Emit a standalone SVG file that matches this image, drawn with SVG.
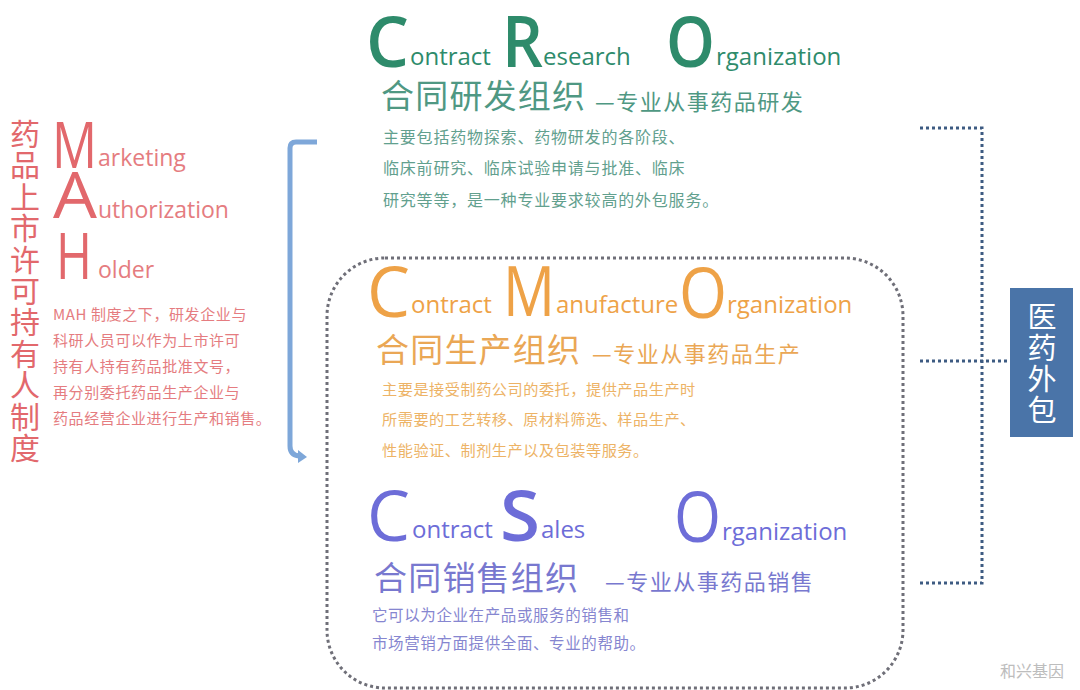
<svg xmlns="http://www.w3.org/2000/svg" width="1080" height="690" viewBox="0 0 1080 690">
<style>
.lat{font-family:"Open Sans","Liberation Sans",sans-serif}
.cjk{font-family:"Noto Sans CJK SC","Noto Sans",sans-serif}
.big{font-size:70px}
.word{font-size:24px}
.h2{font-size:33px;letter-spacing:1.2px}
.h3{font-size:22px;letter-spacing:1.5px}
.p{font-size:15.5px;letter-spacing:0.6px}
.red{fill:#e2686c}
.redl{fill:#e57c80}
.grn{fill:#2e8b6b}
.grnm{fill:#4f9883}
.grnl{fill:#62a08e}
.org{fill:#eea247}
.orgm{fill:#eaa755}
.orgl{fill:#edb366}
.pur{fill:#6d6dd8}
.purm{fill:#7878cf}
.purl{fill:#8686d0}
.dot{fill:none;stroke:#3d5b82;stroke-width:3;stroke-dasharray:3 3}
</style>
<rect width="1080" height="690" fill="#ffffff"/>

<g id="mah">
  <text class="cjk red" font-size="30" text-anchor="middle">
    <tspan x="25" y="145">药</tspan><tspan x="25" y="176.4">品</tspan><tspan x="25" y="207.8">上</tspan><tspan x="25" y="239.2">市</tspan><tspan x="25" y="270.6">许</tspan><tspan x="25" y="302">可</tspan><tspan x="25" y="333.4">持</tspan><tspan x="25" y="364.8">有</tspan><tspan x="25" y="396.2">人</tspan><tspan x="25" y="427.6">制</tspan><tspan x="25" y="459">度</tspan>
  </text>
  <text class="lat red" font-size="64" x="52" y="168" textLength="45" lengthAdjust="spacingAndGlyphs">M</text>
  <text class="lat redl" font-size="23" x="98" y="166">arketing</text>
  <text class="lat red" font-size="64" x="53" y="218" textLength="44" lengthAdjust="spacingAndGlyphs">A</text>
  <text class="lat redl" font-size="23" x="98" y="218">uthorization</text>
  <text class="lat red" font-size="64" x="56" y="279" textLength="36" lengthAdjust="spacingAndGlyphs">H</text>
  <text class="lat redl" font-size="23" x="98" y="278">older</text>
  <g class="cjk redl" font-size="15" letter-spacing="0.6">
    <text x="53" y="320">MAH 制度之下，研发企业与</text>
    <text x="53" y="346">科研人员可以作为上市许可</text>
    <text x="53" y="372">持有人持有药品批准文号，</text>
    <text x="53" y="398">再分别委托药品生产企业与</text>
    <text x="53" y="424">药品经营企业进行生产和销售。</text>
  </g>
</g>

<g id="cro">
  <text class="lat big grn" font-weight="600" x="366" y="67" textLength="43" lengthAdjust="spacingAndGlyphs">C</text>
  <text class="lat word grn" x="410" y="65">ontract</text>
  <text class="lat big grn" font-weight="600" x="502" y="67" textLength="41" lengthAdjust="spacingAndGlyphs">R</text>
  <text class="lat word grn" x="543" y="65">esearch</text>
  <text class="lat big grn" font-weight="600" x="666" y="67" textLength="49" lengthAdjust="spacingAndGlyphs">O</text>
  <text class="lat word grn" x="716" y="65">rganization</text>
  <text class="cjk h2 grnm" x="381" y="108">合同研发组织</text>
  <text class="cjk h3 grnm" x="595" y="110">—专业从事药品研发</text>
  <g class="cjk grnl" font-size="16" letter-spacing="0.8">
    <text x="383" y="143">主要包括药物探索、药物研发的各阶段、</text>
    <text x="383" y="174">临床前研究、临床试验申请与批准、临床</text>
    <text x="383" y="206">研究等等，是一种专业要求较高的外包服务。</text>
  </g>
</g>

<g id="cmo">
  <text class="lat big org" x="367" y="317" textLength="43" lengthAdjust="spacingAndGlyphs">C</text>
  <text class="lat word org" x="411" y="313">ontract</text>
  <text class="lat big org" x="503" y="316" textLength="52" lengthAdjust="spacingAndGlyphs">M</text>
  <text class="lat word org" x="556" y="313">anufacture</text>
  <text class="lat big org" x="679" y="318" textLength="48" lengthAdjust="spacingAndGlyphs">O</text>
  <text class="lat word org" x="727" y="313">rganization</text>
  <text class="cjk h2 orgm" x="376" y="362">合同生产组织</text>
  <text class="cjk h3 orgm" x="592" y="362">—专业从事药品生产</text>
  <g class="cjk orgl" font-size="15.2" letter-spacing="0.5">
    <text x="382" y="395">主要是接受制药公司的委托，提供产品生产时</text>
    <text x="382" y="425">所需要的工艺转移、原材料筛选、样品生产、</text>
    <text x="382" y="456">性能验证、制剂生产以及包装等服务。</text>
  </g>
</g>

<g id="cso">
  <text class="lat big pur" x="367" y="541" textLength="43" lengthAdjust="spacingAndGlyphs">C</text>
  <text class="lat word pur" x="412" y="538">ontract</text>
  <text class="lat big pur" font-weight="600" x="500" y="541" textLength="40" lengthAdjust="spacingAndGlyphs">S</text>
  <text class="lat word pur" x="541" y="538">ales</text>
  <text class="lat big pur" x="674" y="542" textLength="47" lengthAdjust="spacingAndGlyphs">O</text>
  <text class="lat word pur" x="722" y="540">rganization</text>
  <text class="cjk h2 purm" x="374" y="590">合同销售组织</text>
  <text class="cjk h3 purm" x="605" y="590">—专业从事药品销售</text>
  <g class="cjk p purl">
    <text x="372" y="621">它可以为企业在产品或服务的销售和</text>
    <text x="372" y="649">市场营销方面提供全面、专业的帮助。</text>
  </g>
</g>

<g id="outsourcing">
  <rect x="1010" y="288" width="63" height="149" fill="#4a74a8"/>
  <text class="cjk" font-size="29" fill="#ffffff" text-anchor="middle">
    <tspan x="1042" y="328">医</tspan><tspan x="1042" y="359">药</tspan><tspan x="1042" y="390">外</tspan><tspan x="1042" y="421">包</tspan>
  </text>
</g>

<g id="connectors">
  <rect x="327" y="258" width="576" height="430" rx="58" ry="58" fill="none" stroke="#6f6f78" stroke-width="3" stroke-dasharray="3 3"/>
  <path class="dot" d="M920 128 H982 V583 H920"/>
  <path class="dot" d="M920 361 H1010"/>
  <path d="M317 142 H296 Q290 142 290 148 V446 Q290 455 299 456" fill="none" stroke="#7ea7d9" stroke-width="5"/>
  <polygon points="298,450 307,457 298,463" fill="#7ea7d9"/>
</g>

<text class="cjk" font-size="16" fill="#bdbdbd" x="1000" y="677">和兴基因</text>
</svg>
